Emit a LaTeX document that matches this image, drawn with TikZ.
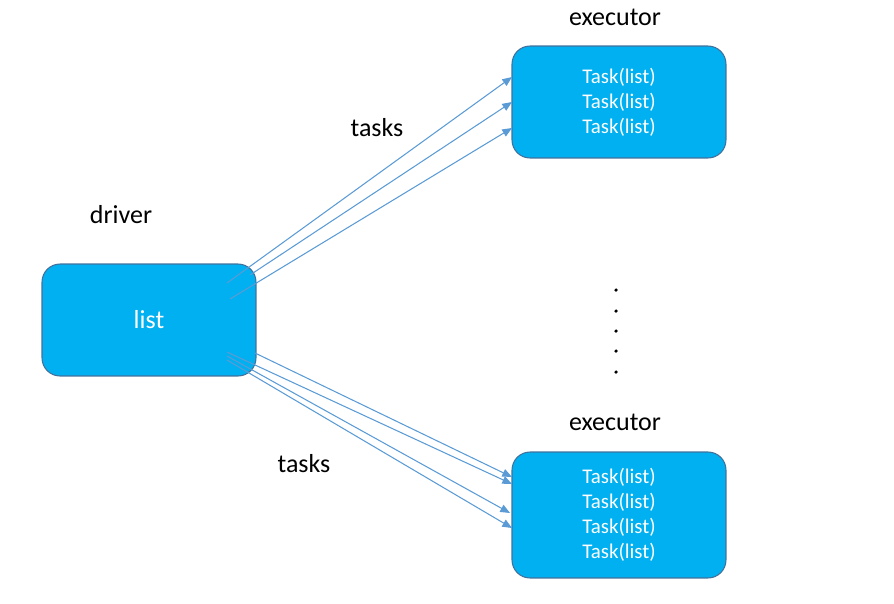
\documentclass[tikz,border=0pt]{standalone}
\usepackage{fontspec}
\setmainfont{Carlito}
\usetikzlibrary{arrows.meta}
\definecolor{boxblue}{HTML}{00B0F0}
\definecolor{edgeblue}{HTML}{41719C}
\definecolor{arrowblue}{HTML}{5B9BD5}
\tikzset{
	box/.style={draw=edgeblue,line width=0.6pt,fill=boxblue,rounded corners=0.36cm,minimum width=4.28cm,text=white},
	txt/.style={font=\fontsize{14.8}{17}\selectfont},
	tasks/.style={align=center,font=\fontsize{11.9}{14.2}\selectfont},
	link/.style={draw=arrowblue,line width=0.6pt,-{Triangle[length=5.5pt,width=4.5pt]}}
}
\begin{document}
\begin{tikzpicture}[x=0.02cm,y=-0.02cm]
	\useasboundingbox (0,0) rectangle (894,603);
	
	%Driver
	\node[box,txt,minimum height=2.24cm] at (149,320) (driver) {list};
	\node[txt] at (121,215) (drivername) {driver};
	
	%Executors
	\node[box,tasks,minimum height=2.24cm] at (619,102) (exectop) {Task(list)\\Task(list)\\Task(list)};
	\node[txt] at (615,17) (exectopname) {executor};
	\node[box,tasks,minimum height=2.52cm] at (619,515) (execbot) {Task(list)\\Task(list)\\Task(list)\\Task(list)};
	\node[txt] at (615,422) (execbotname) {executor};
	
	%Dots
	\foreach \y in {290,311,331,351,372}
		\fill (616,\y) circle (1pt);
	
	%Ends of the task arrows
	\coordinate (s1) at (227,283);
	\coordinate (s2) at (250,275);
	\coordinate (s3) at (230,299);
	\coordinate (t1) at (512,77);
	\coordinate (t2) at (512,102);
	\coordinate (t3) at (512,128);
	\coordinate (s4) at (255,353);
	\coordinate (s5) at (227,352);
	\coordinate (s6) at (227,356);
	\coordinate (s7) at (227,360);
	\coordinate (t4) at (512,477);
	\coordinate (t5) at (512,484);
	\coordinate (t6) at (510,513);
	\coordinate (t7) at (512,528);
	
	%Arrows
	\draw[link] (s1)--(t1);
	\draw[link] (s2)--(t2);
	\draw[link] (s3)--(t3);
	\node[txt] at (377,128) (tasktop) {tasks};
	\draw[link] (s4)--(t4);
	\draw[link] (s5)--(t5);
	\draw[link] (s6)--(t6);
	\draw[link] (s7)--(t7);
	\node[txt] at (304,464) (taskbot) {tasks};

\end{tikzpicture}
\end{document}
